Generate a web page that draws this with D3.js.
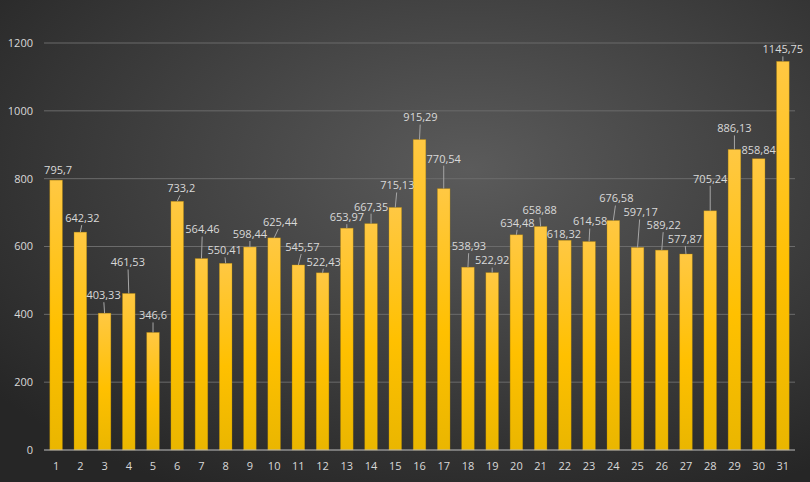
<!DOCTYPE html>
<html>
<head>
<meta charset="utf-8">
<script src="https://cdn.jsdelivr.net/npm/d3@7"></script>
<style>
  body { margin: 0; background: #333; }
  svg { display: block; }
  text { font-family: "Open Sans", "Liberation Sans", sans-serif; }
</style>
</head>
<body>
<svg width="810" height="482"></svg>
<script>
const days = d3.range(1, 32).map(String);
const values = [795.7, 642.32, 403.33, 461.53, 346.6, 733.2, 564.46, 550.41, 598.44, 625.44,
  545.57, 522.43, 653.97, 667.35, 715.13, 915.29, 770.54, 538.93, 522.92, 634.48,
  658.88, 618.32, 614.58, 676.58, 597.17, 589.22, 577.87, 705.24, 886.13, 858.84, 1145.75];
const yTicks = [0, 200, 400, 600, 800, 1000, 1200];

// label placement, px relative to bar top centre (Excel-style moved labels)
const labelDx = [2, 2, -1, -1, 0, 4, 1, -1, 0, 6, 4, 1, 0, 0, 2, 1, 0, 1, 0, 1, -1, -1, 1, 3, 3, 2, -1, 0, 0, 0, 0];
const labelDy = [-10, -14, -18, -31, -17, -13, -29, -13, -13, -16, -18, -11, -11, -17, -22, -22, -30, -21, -12, -12, -16, -6, -20, -22, -35, -25, -15, -32, -21, -9, -12];

const svg = d3.select('svg');
const width = +svg.attr('width');
const height = +svg.attr('height');
const margin = { top: 43, right: 15, bottom: 32, left: 44 };

// background
const defs = svg.append('defs');
const bg = defs.append('radialGradient').attr('id', 'bg')
  .attr('cx', '58%').attr('cy', '35%').attr('r', '75%');
bg.append('stop').attr('offset', '0%').attr('stop-color', '#5b5b5b');
bg.append('stop').attr('offset', '100%').attr('stop-color', '#262626');
svg.append('rect').attr('width', width).attr('height', height).attr('fill', 'url(#bg)');

const barGrad = defs.append('linearGradient').attr('id', 'bar')
  .attr('x1', 0).attr('y1', 0).attr('x2', 0).attr('y2', 1);
barGrad.append('stop').attr('offset', '0%').attr('stop-color', '#ffc843');
barGrad.append('stop').attr('offset', '55%').attr('stop-color', '#ffc000');
barGrad.append('stop').attr('offset', '100%').attr('stop-color', '#eab600');

const x = d3.scaleBand().domain(days).range([margin.left, width - margin.right])
  .paddingInner(0.48).paddingOuter(0.24);
const y = d3.scaleLinear().domain([0, 1200]).range([height - margin.bottom, margin.top]);

// gridlines
svg.append('g').selectAll('line').data(yTicks.slice(1)).join('line')
  .attr('x1', margin.left).attr('x2', width - margin.right)
  .attr('y1', d => y(d)).attr('y2', d => y(d))
  .attr('stroke', '#6b6b6b').attr('stroke-width', 1);

// y axis labels
svg.append('g').selectAll('text').data(yTicks).join('text')
  .attr('x', 33).attr('y', d => y(d)).attr('dy', '0.35em')
  .attr('text-anchor', 'end').attr('font-size', 11).attr('fill', '#d9d9d9')
  .text(d => d);

// bars
svg.append('g').selectAll('rect').data(values).join('rect')
  .attr('x', (d, i) => x(days[i])).attr('width', x.bandwidth())
  .attr('y', d => y(d)).attr('height', d => y(0) - y(d))
  .attr('fill', 'url(#bar)').attr('stroke', '#b88a00').attr('stroke-opacity', 0.45).attr('stroke-width', 0.7);

// x axis line
svg.append('line')
  .attr('x1', margin.left).attr('x2', width - margin.right)
  .attr('y1', y(0)).attr('y2', y(0))
  .attr('stroke', '#bfbfbf').attr('stroke-width', 1);

// x axis labels
svg.append('g').selectAll('text').data(days).join('text')
  .attr('x', d => x(d) + x.bandwidth() / 2).attr('y', y(0) + 16)
  .attr('dy', '0.35em').attr('text-anchor', 'middle')
  .attr('font-size', 11).attr('fill', '#d9d9d9')
  .text(d => d);

// data labels with leader lines
const labels = svg.append('g');
values.forEach((v, i) => {
  const cx = x(days[i]) + x.bandwidth() / 2;
  const top = y(v);
  const lx = cx + labelDx[i];
  const ly = top + labelDy[i];
  if (ly + 7 < top - 3) {
    labels.append('line')
      .attr('x1', lx - labelDx[i] * 0.3).attr('y1', ly + 7)
      .attr('x2', cx).attr('y2', top)
      .attr('stroke', '#a6a6a6').attr('stroke-width', 1);
  }
  labels.append('text')
    .attr('x', lx).attr('y', ly).attr('dy', '0.35em')
    .attr('text-anchor', 'middle').attr('font-size', 11).attr('fill', '#d9d9d9')
    .text(String(v).replace('.', ','));
});
</script>
</body>
</html>
